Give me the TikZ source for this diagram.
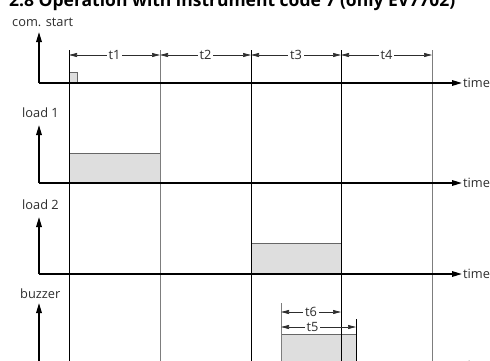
\documentclass[tikz,border=0pt]{standalone}
\usepackage{fontspec}
\setmainfont{Open Sans}
\usepackage{xcolor}
\usetikzlibrary{arrows.meta}
\definecolor{pulsegray}{RGB}{222,222,222}
\definecolor{labelgray}{RGB}{45,45,45}
\definecolor{linegray}{RGB}{125,125,125}

\tikzset{
    axis/.style={line width=1.6pt,-{Triangle[length=10pt,width=5.5pt]}},
    gridline/.style={line width=0.9pt},
    dim/.style={line width=0.7pt,draw=labelgray,{Triangle[length=8pt,width=4pt]}-{Triangle[length=8pt,width=4pt]}},
    pulse/.style={draw=black!60,fill=pulsegray,line width=0.8pt},
    lbl/.style={font=\fontsize{12.8}{15}\selectfont,text=labelgray,inner sep=1pt},
    dimlbl/.style={lbl,fill=white,inner sep=2pt},
}

\begin{document}
\begin{tikzpicture}[x=1pt,y=-1pt]
    \useasboundingbox (0,0) rectangle (490,360);
    \clip (0,0) rectangle (490,360);

    \node[anchor=base west,inner sep=0,font=\bfseries\fontsize{17.5}{20}\selectfont] (title) at (9,6)
        {2.8 Operation with instrument code 7 (only EV7702)};

    % signal levels
    \draw[pulse] (69,72) rectangle (77,83);
    \draw[pulse] (69,153) rectangle (160,183);
    \draw[pulse] (251,243) rectangle (341,274);
    \draw[pulse] (281,334) rectangle (356,366);

    % time marks
    \coordinate (m1) at (69,50);   \coordinate (b1) at (69,362);
    \coordinate (m2) at (160,50);  \coordinate (b2) at (160,362);
    \coordinate (m3) at (251,50);  \coordinate (b3) at (251,362);
    \coordinate (m4) at (341,50);  \coordinate (b4) at (341,362);
    \coordinate (m5) at (432,50);  \coordinate (b5) at (432,362);
    \draw[gridline] (m1) -- (b1);
    \draw[gridline,linegray] (m2) -- (b2);
    \draw[gridline] (m3) -- (b3);
    \draw[gridline] (m4) -- (b4);
    \draw[gridline,linegray] (m5) -- (b5);

    \coordinate (s1) at (281,303);  \coordinate (e1) at (281,362);
    \coordinate (s2) at (356,319);  \coordinate (e2) at (356,362);
    \draw[gridline,linegray] (s1) -- (e1);
    \draw[gridline] (s2) -- (e2);

    % durations
    \draw[dim] (69,55) -- node[dimlbl] (t1) {t1} (160,55);
    \draw[dim] (160,55) -- node[dimlbl] (t2) {t2} (251,55);
    \draw[dim] (251,55) -- node[dimlbl] (t3) {t3} (341,55);
    \draw[dim] (341,55) -- node[dimlbl] (t4) {t4} (432,55);
    \draw[dim] (281,312) -- node[dimlbl] (t6) {t6} (341,312);
    \draw[dim] (281,327) -- node[dimlbl,pos=0.42] (t5) {t5} (356,327);

    % axes
    \coordinate (o1) at (39,83);
    \coordinate (o2) at (39,183);
    \coordinate (o3) at (39,274);
    \coordinate (o4) at (39,366);
    \node[lbl,anchor=west] (com) at (11,22) {com. start};
    \node[lbl,anchor=west] (load1) at (21,113) {load 1};
    \node[lbl,anchor=west] (load2) at (21,205) {load 2};
    \node[lbl,anchor=west] (buzz) at (19,294) {buzzer};
    \node[lbl,anchor=west] (time1) at (462,83) {time};
    \node[lbl,anchor=west] (time2) at (462,183) {time};
    \node[lbl,anchor=west] (time3) at (462,274) {time};
    \node[lbl,anchor=west] (time4) at (462,366) {time};

    \draw[axis] (o1) -- (39,32);
    \draw[axis] (o1) -- (time1.west);
    \draw[axis] (o2) -- (39,125);
    \draw[axis] (o2) -- (time2.west);
    \draw[axis] (o3) -- (39,217);
    \draw[axis] (o3) -- (time3.west);
    \draw[axis] (o4) -- (39,303);
    \draw[axis] (o4) -- (time4.west);
\end{tikzpicture}
\end{document}
